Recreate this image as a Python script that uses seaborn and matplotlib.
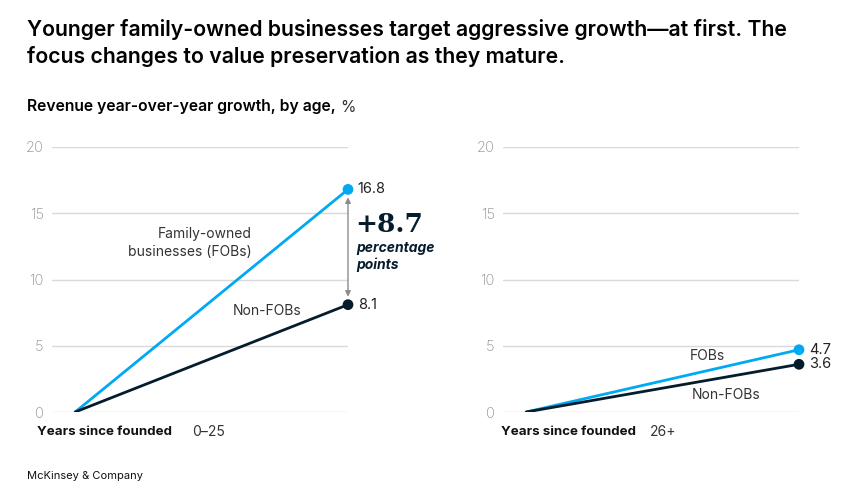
import pandas as pd
import seaborn as sns
from matplotlib import pyplot as plt

# 数据
stage = ["start", "end"]
fob_young = [0, 16.8]
non_fob_young = [0, 8.1]
fob_old = [0, 4.7]
non_fob_old = [0, 3.6]
y_ticks = [0, 5, 10, 15, 20]

FOB_COLOR = "#00A9F4"
NON_COLOR = "#051C2C"
GRID = "#D9D9D9"
TICK = "#8C8C8C"

sns.set_style("white")
plt.rcParams['font.family'] = ['Inter', 'DejaVu Sans']

W, H = 867, 504
fig = plt.figure(figsize=(W / 100, H / 100), dpi=100)


def fx(x, y):
    return x / W, 1 - y / H


def panel(left_px, fob, non):
    ax = fig.add_axes([left_px / W, 1 - 412 / H, 296 / W, 265 / H])
    df = pd.DataFrame({
        "x": [0, 1, 0, 1],
        "y": fob + non,
        "group": ["FOB", "FOB", "Non", "Non"],
    })
    sns.lineplot(data=df, x="x", y="y", hue="group",
                 palette={"FOB": FOB_COLOR, "Non": NON_COLOR},
                 linewidth=2, legend=False, ax=ax)
    ends = df[df["x"] == 1]
    sns.scatterplot(data=ends, x="x", y="y", hue="group",
                    palette={"FOB": FOB_COLOR, "Non": NON_COLOR},
                    s=60, edgecolor="none", legend=False, ax=ax, zorder=5,
                    clip_on=False)
    ax.set_xlim(-0.085, 1.0)
    ax.set_ylim(0, 20)
    ax.set_yticks(y_ticks)
    ax.set_xticks([])
    ax.set_xlabel("")
    ax.set_ylabel("")
    for t in y_ticks:
        ax.axhline(t, color=GRID, lw=1, zorder=0)
    ax.tick_params(axis="y", length=0, pad=6, labelsize=10.5, labelcolor=TICK)
    for lab in ax.get_yticklabels():
        lab.set_fontweight("light")
    for s in ax.spines.values():
        s.set_visible(False)
    return ax


ax1 = panel(52, fob_young, non_fob_young)
ax2 = panel(503, fob_old, non_fob_old)

# 末端数值
for ax, vals in [(ax1, [fob_young[1], non_fob_young[1]]), (ax2, [fob_old[1], non_fob_old[1]])]:
    for v in vals:
        ax.annotate(f"{v}", (1, v), xytext=(7, 0), textcoords="offset points",
                    va="center", ha="left", fontsize=10.5, color="#222222",
                    annotation_clip=False)

# 差值箭头
ax1.annotate("", xy=(1, non_fob_young[1] + 0.6), xytext=(1, fob_young[1] - 0.6),
             arrowprops=dict(arrowstyle="<|-|>", color="#8C8C8C", lw=1,
                             mutation_scale=8, shrinkA=0, shrinkB=0),
             annotation_clip=False)
diff = round(fob_young[1] - non_fob_young[1], 1)
fig.text(*fx(355, 225), f"+{diff}", family=["DejaVu Serif"], fontsize=19,
         fontweight="semibold", color=NON_COLOR, va="center", ha="left")
fig.text(*fx(356, 248), "percentage", fontsize=10, fontweight="bold",
         style="italic", color=NON_COLOR, va="center", ha="left")
fig.text(*fx(356, 265), "points", fontsize=10, fontweight="bold",
         style="italic", color=NON_COLOR, va="center", ha="left")

# 系列标签
fig.text(*fx(252, 243), "Family-owned\nbusinesses (FOBs)", fontsize=10,
         color="#333333", ha="right", va="center", linespacing=1.3)
fig.text(*fx(302, 311), "Non-FOBs", fontsize=10, color="#333333",
         ha="right", va="center")
fig.text(*fx(690, 356), "FOBs", fontsize=10, color="#333333",
         ha="left", va="center")
fig.text(*fx(692, 395), "Non-FOBs", fontsize=10, color="#333333",
         ha="left", va="center")

# x 轴说明
fig.text(*fx(37, 432), "Years since founded", fontsize=9.6, fontweight="bold",
         color="#111111", ha="left", va="center")
fig.text(*fx(192, 432), "0–25", fontsize=10, color="#333333",
         ha="left", va="center")
fig.text(*fx(501, 432), "Years since founded", fontsize=9.6, fontweight="bold",
         color="#111111", ha="left", va="center")
fig.text(*fx(650, 432), "26+", fontsize=10, color="#333333",
         ha="left", va="center")

# 标题
fig.text(*fx(27, 19), "Younger family-owned businesses target aggressive growth—at first. The\n"
         "focus changes to value preservation as they mature.",
         fontsize=15.3, fontweight="semibold", color="#000000", ha="left",
         va="top", linespacing=1.38)
sub = fig.text(*fx(27, 107), "Revenue year-over-year growth, by age,", fontsize=11.3,
               fontweight="semibold", color="#000000", ha="left", va="center")
ax1.annotate("%", xy=(1, 0.5), xycoords=sub, xytext=(3, 0),
             textcoords="offset points", fontsize=11.3, color="#333333",
             ha="left", va="center", annotation_clip=False)
fig.text(*fx(27, 476), "McKinsey & Company", fontsize=8, color="#111111",
         ha="left", va="center")

fig.savefig("out.png", dpi=100)
